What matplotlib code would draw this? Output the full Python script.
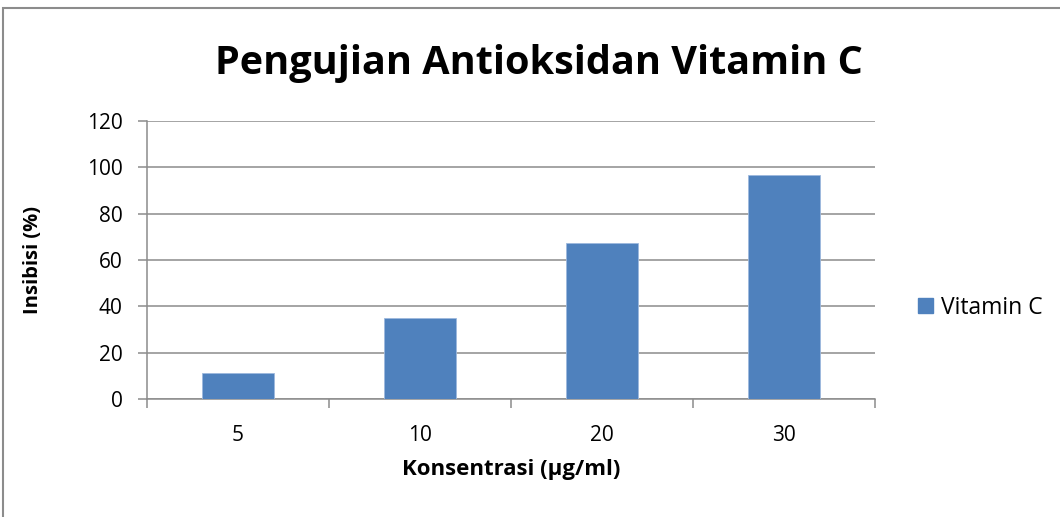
import matplotlib.pyplot as plt
from matplotlib.patches import Rectangle, Patch
import numpy as np

# data
categories = ['5', '10', '20', '30']
values = [11.1, 34.9, 67.4, 96.7]
yticks = [0, 20, 40, 60, 80, 100, 120]

plt.rcParams['font.family'] = ['Open Sans', 'DejaVu Sans']

fig = plt.figure(figsize=(10.6, 5.17), dpi=100)
ax = fig.add_axes([0.1387, 0.2282, 0.6868, 0.5378])

x = np.arange(len(categories))
ax.bar(x, values, width=0.4, color='#4F81BD', edgecolor='#9DB9DE', linewidth=0.6,
       zorder=3, label='Vitamin C')

ax.set_xlim(-0.5, len(categories) - 0.5)
ax.set_ylim(0, 120)
ax.set_yticks(yticks)
ax.set_yticklabels([str(t) for t in yticks], fontsize=15)
ax.yaxis.grid(True, color='#8C8C8C', linewidth=1.1, zorder=0)

# category labels in the middle, ticks on category boundaries
ax.set_xticks(x)
ax.set_xticklabels(categories, fontsize=15)
ax.tick_params(axis='x', length=0, pad=19)
ax.set_xticks(np.arange(len(categories) + 1) - 0.5, minor=True)
ax.tick_params(axis='x', which='minor', length=6.5, width=1.1, color='#8C8C8C')
ax.tick_params(axis='y', length=6.5, width=1.1, color='#8C8C8C', pad=11)

for s in ['top', 'right']:
    ax.spines[s].set_visible(False)
for s in ['left', 'bottom']:
    ax.spines[s].set_color('#8C8C8C')
    ax.spines[s].set_linewidth(1.1)

ax.set_xlabel('Konsentrasi (µg/ml)', fontsize=16, fontweight='bold', va='center')
ax.set_ylabel('Insibisi (%)', fontsize=14.5, fontweight='bold', va='center')
ax.xaxis.set_label_coords(0.5, -0.255)
ax.yaxis.set_label_coords(-0.157, 0.5)

fig.text(0.508, 0.877, 'Pengujian Antioksidan Vitamin C', fontsize=28.5,
         fontweight='bold', ha='center', va='center')

fig.legend(handles=[Patch(color='#4F81BD', label='Vitamin C')],
           loc='center left', bbox_to_anchor=(0.847, 0.405), frameon=False,
           fontsize=16.5, handlelength=0.65, handleheight=0.65, handletextpad=0.35)

# outer chart border
fig.patches.append(Rectangle((0.003, -0.01), 1.2, 0.995, transform=fig.transFigure,
                             fill=False, edgecolor='#8C8C8C', linewidth=1.5))

fig.savefig('out.png', dpi=100)
